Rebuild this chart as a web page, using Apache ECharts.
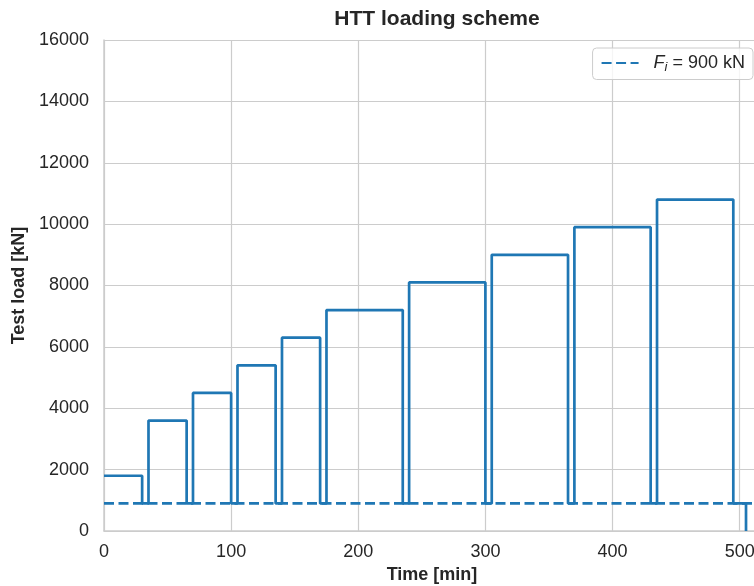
<!DOCTYPE html>
<html>
<head>
<meta charset="utf-8">
<title>HTT loading scheme</title>
<script src="https://cdn.jsdelivr.net/npm/echarts@6/dist/echarts.min.js"></script>
<style>
  html, body { margin: 0; padding: 0; background: #fff; }
  #chart { width: 754px; height: 586px; }
</style>
</head>
<body>
<div id="chart"></div>
<script>
// load steps (start / end of each hold, in min) and hold level in kN
const stepStart = [0, 35, 70, 105, 140, 175, 240, 305, 370, 435];
const stepEnd = [30, 65, 100, 135, 170, 235, 300, 365, 430, 495];
const stepLoad = [1800, 3600, 4500, 5400, 6300, 7200, 8100, 9000, 9900, 10800];
const initialLoad = 900;   // F_i
const unloadTime = 505;    // final drop to zero
const xMax = 516;

const yTicks = [0, 2000, 4000, 6000, 8000, 10000, 12000, 14000, 16000];

// build the step curve: hold -> back to F_i -> next hold
const loadCurve = [];
stepStart.forEach((t0, i) => {
  if (i > 0) loadCurve.push([t0, initialLoad]);
  loadCurve.push([t0, stepLoad[i]]);
  loadCurve.push([stepEnd[i], stepLoad[i]]);
  loadCurve.push([stepEnd[i], initialLoad]);
});
loadCurve.push([unloadTime, initialLoad]);
loadCurve.push([unloadTime, 0]);

const fiLine = [[0, initialLoad], [xMax, initialLoad]];

const blue = '#1f77b4';
const txt = '#262626';
const font = 'Liberation Sans, Arial, sans-serif';

const chart = echarts.init(document.getElementById('chart'));
chart.setOption({
  animation: false,
  textStyle: { fontFamily: font },
  title: {
    text: 'HTT loading scheme',
    left: 432,
    textAlign: 'center',
    top: 4,
    textStyle: { fontSize: 21, fontWeight: 'bold', color: txt, fontFamily: font },
  },
  legend: {
    right: 1,
    top: 48,
    padding: [6, 8, 6, 8],
    borderColor: '#cccccc',
    borderWidth: 1,
    borderRadius: 4,
    backgroundColor: 'rgba(255,255,255,0.8)',
    itemWidth: 37,
    itemHeight: 14,
    itemStyle: { opacity: 0 },
    data: ['Fi'],
    formatter: () => '{f|F}{s|i}{t| = 900 kN}',
    textStyle: {
      fontSize: 18,
      color: txt,
      fontFamily: font,
      rich: {
        f: { fontSize: 18, fontStyle: 'italic', color: txt, padding: [0, 0, 0, 10] },
        s: { fontSize: 13, fontStyle: 'italic', color: txt, padding: [8, 0, 0, 0] },
        t: { fontSize: 18, color: txt },
      },
    },
  },
  grid: { left: 104, top: 40, width: 656, height: 491, outerBoundsMode: 'none' },
  xAxis: {
    type: 'value',
    min: 0,
    max: xMax,
    interval: 100,
    name: 'Time [min]',
    nameLocation: 'middle',
    nameGap: 31,
    nameTextStyle: { fontSize: 18, fontWeight: 'bold', color: txt },
    axisLine: { show: true, lineStyle: { color: '#cccccc', width: 1.5 } },
    axisTick: { show: false },
    axisLabel: { fontSize: 18, color: txt, margin: 12, showMaxLabel: false, formatter: (v) => String(v) },
    splitLine: { show: true, lineStyle: { color: '#cccccc', width: 1.2 } },
  },
  yAxis: {
    type: 'value',
    min: yTicks[0],
    max: yTicks[yTicks.length - 1],
    interval: 2000,
    name: 'Test load [kN]',
    nameLocation: 'middle',
    nameGap: 68,
    nameRotate: 90,
    nameTextStyle: { fontSize: 18, fontWeight: 'bold', color: txt },
    axisLine: { show: true, lineStyle: { color: '#cccccc', width: 1.5 } },
    axisTick: { show: false },
    axisLabel: { fontSize: 18, color: txt, margin: 15, formatter: (v) => String(v) },
    splitLine: { show: true, lineStyle: { color: '#cccccc', width: 1.2 } },
  },
  series: [
    {
      name: 'Fi',
      type: 'line',
      data: fiLine,
      symbol: 'none',
      lineStyle: { color: blue, width: 2.7, type: [10, 4.5] },
      itemStyle: { color: blue },
      z: 2,
    },
    {
      name: 'load',
      type: 'line',
      data: loadCurve,
      symbol: 'none',
      lineStyle: { color: blue, width: 2.7 },
      itemStyle: { color: blue },
      z: 3,
    },
  ],
});
</script>
</body>
</html>
